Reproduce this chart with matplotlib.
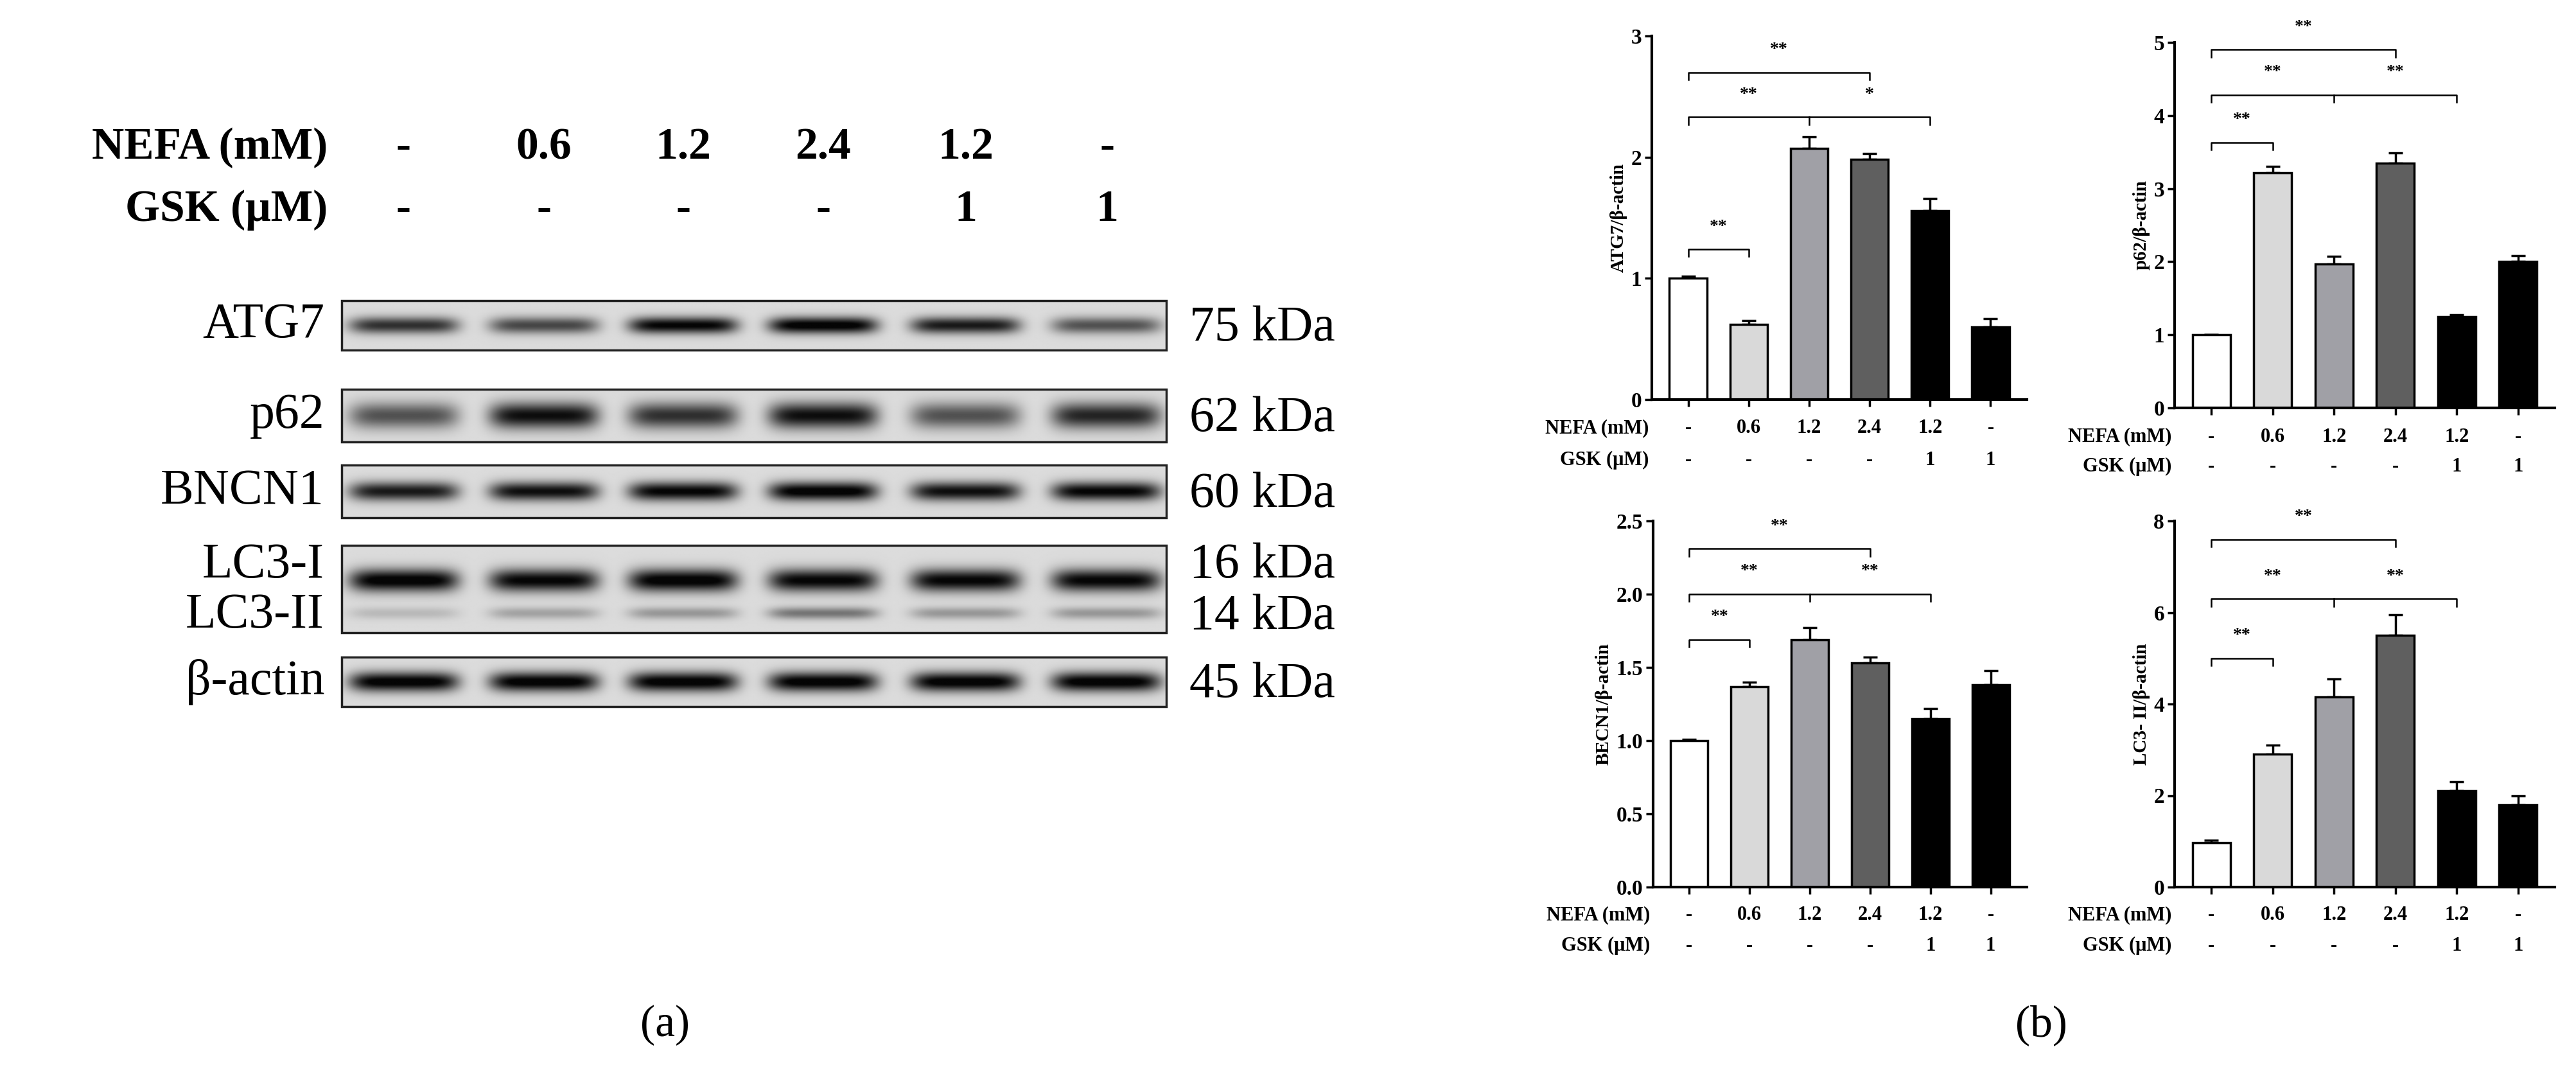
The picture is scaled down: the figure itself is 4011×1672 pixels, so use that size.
import matplotlib
matplotlib.use("Agg")
import matplotlib.pyplot as plt
import numpy as np

plt.rcParams["font.family"] = ["Liberation Serif", "DejaVu Serif"]

NEFA = ["-", "0.6", "1.2", "2.4", "1.2", "-"]
GSK = ["-", "-", "-", "-", "1", "1"]

# western blot band intensities (0..1)
BLOT_NAMES = ["ATG7", "p62", "BNCN1", "LC3", "β-actin"]
BLOT_KDA = ["75 kDa", "62 kDa", "60 kDa", "16 kDa", "45 kDa"]
ATG7_BANDS = [0.75, 0.65, 0.95, 1.0, 0.85, 0.6]
P62_BANDS = [0.6, 0.9, 0.75, 0.9, 0.6, 0.8]
BNCN1_BANDS = [0.85, 0.9, 0.95, 1.0, 0.9, 0.95]
LC3I_BANDS = [1.0, 0.95, 1.0, 0.95, 0.95, 0.95]
LC3II_BANDS = [0.15, 0.25, 0.3, 0.45, 0.3, 0.3]
ACTIN_BANDS = [1.0, 1.0, 1.0, 1.0, 1.0, 1.0]

# quantification
ATG7_MEAN = [1.0, 0.62, 2.07, 1.98, 1.56, 0.60]
ATG7_ERR = [0.02, 0.03, 0.10, 0.05, 0.10, 0.07]
P62_MEAN = [1.0, 3.22, 1.97, 3.35, 1.25, 2.0]
P62_ERR = [0.0, 0.08, 0.10, 0.14, 0.02, 0.08]
BECN1_MEAN = [1.0, 1.37, 1.69, 1.53, 1.15, 1.38]
BECN1_ERR = [0.01, 0.03, 0.08, 0.04, 0.07, 0.10]
LC3_MEAN = [0.97, 2.9, 4.15, 5.5, 2.1, 1.8]
LC3_ERR = [0.05, 0.2, 0.4, 0.45, 0.2, 0.2]

BAR_COLORS = ["white", "#d9d9d9", "#a0a0a6", "#5f5f5f", "black", "black"]

W, H = 4011, 1672
fig = plt.figure(figsize=(W / 100, H / 100), dpi=100)
bg = fig.add_axes([0, 0, 1, 1])
bg.set_xlim(0, W)
bg.set_ylim(H, 0)
bg.axis("off")

box_l, box_r = 532, 1816
lane_x = [box_l + f * (box_r - box_l) for f in [0.075, 0.245, 0.414, 0.584, 0.757, 0.928]]
bg.text(510, 230, "NEFA (mM)", ha="right", va="center", fontsize=50, fontweight="bold")
bg.text(510, 327, "GSK (μM)", ha="right", va="center", fontsize=50, fontweight="bold")
for x, n, g in zip(lane_x, NEFA, GSK):
    bg.text(x, 230, n, ha="center", va="center", fontsize=50, fontweight="bold")
    bg.text(x, 327, g, ha="center", va="center", fontsize=50, fontweight="bold")


def blot(y0, y1, rows):
    # rows: list of (band intensities, relative y center, y width)
    nx, ny = 600, 80
    xs = np.linspace(box_l, box_r, nx)
    ys = np.linspace(0, 1, ny)
    img = np.full((ny, nx), 0.86)
    for vals, yc, sy in rows:
        for lx, v in zip(lane_x, vals):
            px = np.exp(-((xs - lx) / 85.0) ** 6)
            py = np.exp(-((ys - yc) / sy) ** 2)
            img -= 0.9 * v * np.outer(py, px)
    img = np.clip(img, 0.02, 1)
    bg.imshow(img, cmap="gray", vmin=0, vmax=1, extent=[box_l, box_r, y1, y0],
              aspect="auto", interpolation="bilinear", zorder=1)
    bg.add_patch(plt.Rectangle((box_l, y0), box_r - box_l, y1 - y0, fill=False,
                               lw=2.5, ec="#222222", zorder=2))


boxes = [(468, 545), (606, 688), (724, 806), (849, 985), (1023, 1100)]
rows = [[(ATG7_BANDS, 0.5, 0.17)], [(P62_BANDS, 0.5, 0.25)], [(BNCN1_BANDS, 0.5, 0.18)],
        [(LC3I_BANDS, 0.4, 0.13), (LC3II_BANDS, 0.78, 0.07)], [(ACTIN_BANDS, 0.5, 0.2)]]
for (y0, y1), r, name, kda in zip(boxes, rows, BLOT_NAMES, BLOT_KDA):
    blot(y0, y1, r)
    if name == "LC3":
        bg.text(505, 880, "LC3-I", ha="right", va="center", fontsize=56)
        bg.text(505, 958, "LC3-II", ha="right", va="center", fontsize=56)
        bg.text(1852, 880, "16 kDa", ha="left", va="center", fontsize=56)
        bg.text(1852, 960, "14 kDa", ha="left", va="center", fontsize=56)
    else:
        bg.text(505, (y0 + y1) / 2, name, ha="right", va="center", fontsize=56)
        bg.text(1852, (y0 + y1) / 2 + 5, kda, ha="left", va="center", fontsize=56)
bg.text(1036, 1596, "(a)", ha="center", va="center", fontsize=50)
bg.text(3178, 1596, "(b)", ha="center", va="center", fontsize=50)


def bar_panel(px0, px1, py_top, py_bot, means, errs, ymax, yticks, ylabel, brackets, row_y,
              ticklabels=None):
    ax = fig.add_axes([px0 / W, 1 - py_bot / H, (px1 - px0) / W, (py_bot - py_top) / H])
    x = np.arange(6)
    ax.bar(x, means, width=0.62, color=BAR_COLORS, edgecolor="black", lw=2.5, zorder=2)
    ax.errorbar(x, means, yerr=[np.zeros(6), errs], fmt="none", ecolor="black",
                elinewidth=2.5, capsize=8, capthick=2.5, zorder=1)
    ax.set_xlim(-0.6, 5.6)
    ax.set_ylim(0, ymax)
    ax.set_yticks(yticks)
    if ticklabels is not None:
        ax.set_yticklabels(ticklabels)
    ax.set_xticks(x)
    ax.set_xticklabels([])
    ax.tick_params(labelsize=24, width=2.5, length=8)
    for t in ax.get_yticklabels():
        t.set_fontweight("bold")
    for s in ["top", "right"]:
        ax.spines[s].set_visible(False)
    for s in ["left", "bottom"]:
        ax.spines[s].set_linewidth(3)
    ax.set_ylabel(ylabel, fontsize=21, fontweight="bold")
    tick = ymax * 0.02
    for i, j, y, lab, mid in brackets:
        ax.plot([i, i, j, j], [y - tick, y, y, y - tick], color="black", lw=1.8, clip_on=False)
        if mid is not None:
            ax.plot([mid, mid], [y, y - tick], color="black", lw=1.8)
            ax.text((i + mid) / 2, y + ymax * 0.05, lab[0], ha="center", fontsize=20, fontweight="bold")
            ax.text((mid + j) / 2, y + ymax * 0.05, lab[1], ha="center", fontsize=20, fontweight="bold")
        else:
            ax.text((i + j) / 2, y + ymax * 0.05, lab, ha="center", fontsize=20, fontweight="bold")
    # treatment table
    ytab1, ytab2 = row_y
    lab_x = px0 - 5
    bg.text(lab_x, ytab1, "NEFA (mM)", ha="right", va="center", fontsize=22, fontweight="bold")
    bg.text(lab_x, ytab2, "GSK (μM)", ha="right", va="center", fontsize=22, fontweight="bold")
    for k in range(6):
        xd = ax.transData.transform((k, 0))[0]
        bg.text(xd, ytab1, NEFA[k], ha="center", va="center", fontsize=22, fontweight="bold")
        bg.text(xd, ytab2, GSK[k], ha="center", va="center", fontsize=22, fontweight="bold")
    return ax


bar_panel(2572, 3156, 56, 622, ATG7_MEAN, ATG7_ERR, 3, [0, 1, 2, 3], "ATG7/β-actin",
          [(0, 1, 1.24, "**", None), (0, 4, 2.33, ("**", "*"), 2), (0, 3, 2.7, "**", None)],
          (667, 716))
bar_panel(3386, 3978, 66, 635, P62_MEAN, P62_ERR, 5, [0, 1, 2, 3, 4, 5], "p62/β-actin",
          [(0, 1, 3.63, "**", None), (0, 4, 4.28, ("**", "**"), 2), (0, 3, 4.9, "**", None)],
          (680, 726))
bar_panel(2574, 3156, 811, 1381, BECN1_MEAN, BECN1_ERR, 2.5, [0, 0.5, 1.0, 1.5, 2.0, 2.5],
          "BECN1/β-actin",
          [(0, 1, 1.69, "**", None), (0, 4, 2.0, ("**", "**"), 2), (0, 3, 2.31, "**", None)],
          (1425, 1472), ticklabels=["0.0", "0.5", "1.0", "1.5", "2.0", "2.5"])
bar_panel(3386, 3978, 811, 1381, LC3_MEAN, LC3_ERR, 8, [0, 2, 4, 6, 8], "LC3- II/β-actin",
          [(0, 1, 5.0, "**", None), (0, 4, 6.3, ("**", "**"), 2), (0, 3, 7.6, "**", None)],
          (1425, 1472))

fig.savefig("out.png", dpi=100, facecolor="white")
